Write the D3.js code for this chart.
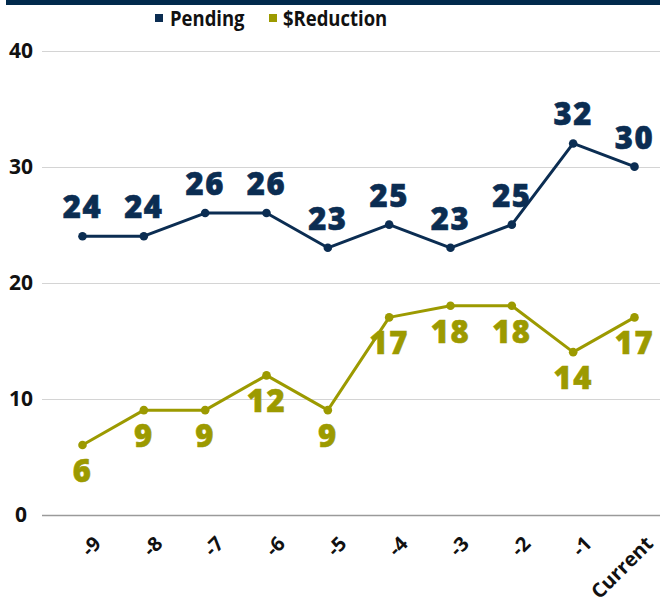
<!DOCTYPE html>
<html><head><meta charset="utf-8">
<script src="https://cdn.jsdelivr.net/npm/d3@7/dist/d3.min.js"></script>
<style>body{margin:0;background:#fff}svg{display:block}</style>
</head><body>
<svg id="c" width="660" height="609"></svg>
<script>
const categories = ["-9","-8","-7","-6","-5","-4","-3","-2","-1","Current"];
const pending = [24,24,26,26,23,25,23,25,32,30];
const reduction = [6,9,9,12,9,17,18,18,14,17];
const yTicks = [0,10,20,30,40];
const seriesNames = ["Pending","$Reduction"];
const colors = ["#0b2d52","#9c9a00"];

const svg = d3.select("#c");
const x = d3.scalePoint().domain(categories).range([82.5, 634.5]);
const y = d3.scaleLinear().domain([0,40]).range([514.5, 50.7]);

// top bar
svg.append("rect").attr("x",6).attr("y",0).attr("width",654).attr("height",5).attr("fill","#012a4c");

// gridlines
svg.append("g").selectAll("line").data(yTicks).join("line")
  .attr("x1",42).attr("x2",660)
  .attr("y1",d=>Math.round(y(d))+0.5).attr("y2",d=>Math.round(y(d))+0.5)
  .attr("stroke",d=>d===0?"#9a9a9a":"#d4d4d4").attr("stroke-width",d=>d===0?1.5:1.2);

// y labels
svg.append("g").selectAll("text").data(yTicks).join("text")
  .attr("x",21).attr("y",d=>y(d)+7.5).attr("text-anchor","middle")
  .attr("font-family","'Open Sans'").attr("font-weight",700).attr("font-size",21)
  .attr("fill","#111").text(d=>d);

// x labels
svg.append("g").selectAll("text").data(categories).join("text")
  .attr("transform",d=>`translate(${x(d)+15},${540}) rotate(-45)`)
  .attr("text-anchor","end").attr("dy","0.35em")
  .attr("font-family","'Open Sans'").attr("font-weight",700).attr("font-size",20)
  .attr("fill","#111").text(d=>d);

const series = [pending, reduction];
series.forEach((vals,si)=>{
  const line = d3.line().x((d,i)=>x(categories[i])).y(d=>y(d));
  svg.append("path").datum(vals).attr("d",line).attr("fill","none")
    .attr("stroke",colors[si]).attr("stroke-width",3).attr("stroke-linejoin","round");
  svg.append("g").selectAll("circle").data(vals).join("circle")
    .attr("cx",(d,i)=>x(categories[i])).attr("cy",d=>y(d)).attr("r",4.3)
    .attr("fill",colors[si]);
  svg.append("g").selectAll("text").data(vals).join("text")
    .attr("x",(d,i)=>x(categories[i])).attr("y",d=> si===0 ? y(d)-18 : y(d)+37)
    .attr("text-anchor","middle")
    .attr("font-family","'Open Sans'").attr("font-weight",800).attr("font-size",31)
    .attr("letter-spacing",1.5)
    .attr("stroke",colors[si]).attr("stroke-width",0.6)
    .attr("fill",colors[si]).text(d=>d);
});

// legend
const leg = [{m:155,t:170},{m:269,t:283}];
seriesNames.forEach((n,i)=>{
  svg.append("rect").attr("x",leg[i].m).attr("y",14).attr("width",8).attr("height",8).attr("fill",colors[i]);
  svg.append("text").attr("transform",`translate(${leg[i].t},26) scale(0.88,1)`)
    .attr("font-family","'Open Sans'").attr("font-weight",700).attr("font-size",21)
    .attr("fill","#111").text(n);
});
</script>
</body></html>
